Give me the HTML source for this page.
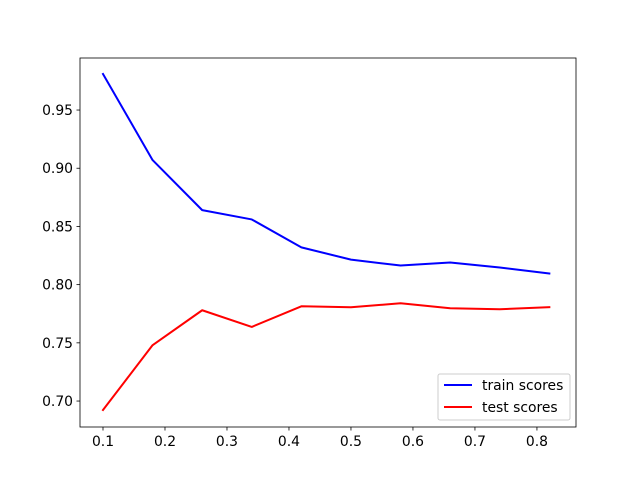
<!DOCTYPE html>
<html><head><meta charset="utf-8"><style>
body{margin:0;background:#fff}
svg{display:block;font-family:"DejaVu Sans","Liberation Sans",sans-serif}
</style></head><body>
<svg width="640" height="480" xmlns="http://www.w3.org/2000/svg">
<rect x="0" y="0" width="640" height="480" fill="#fff"/>
<g id="plot"></g>
</svg>
<script>
const xs=[0.1,0.18,0.26,0.34,0.42,0.5,0.58,0.66,0.74,0.82];
const trainScores=[0.981,0.907,0.864,0.856,0.832,0.8215,0.8164,0.819,0.8147,0.8096];
const testScores=[0.6923,0.748,0.778,0.7637,0.7814,0.7806,0.784,0.7797,0.7789,0.7806];
const xTicks=[0.1,0.2,0.3,0.4,0.5,0.6,0.7,0.8];
const yTicks=[0.70,0.75,0.80,0.85,0.90,0.95];
const L=80,R=576,T=58,B=427;
const xmin=0.0629,xmax=0.863,ymin=0.6777,ymax=0.9947;
const X=v=>L+(v-xmin)/(xmax-xmin)*(R-L);
const Y=v=>B-(v-ymin)/(ymax-ymin)*(B-T);
const NS="http://www.w3.org/2000/svg";
const g=document.getElementById('plot');
function mk(t,a,p){const e=document.createElementNS(NS,t);for(const k in a)e.setAttribute(k,a[k]);(p||g).appendChild(e);return e;}
xTicks.forEach(v=>{
 const t=mk('line',{x1:X(v),x2:X(v),y1:B,y2:B+3.5,stroke:'#000','stroke-width':0.8});
 
 
 const l=mk('text',{x:X(v),y:B+19,'font-size':13.9,'text-anchor':'middle'});l.textContent=String(v);
 
 
});
yTicks.forEach(v=>{
 const t=mk('line',{x1:L-3.5,x2:L,y1:Y(v),y2:Y(v),stroke:'#000','stroke-width':0.8});
 
 
 const l=mk('text',{x:L-7,y:Y(v)+5,'font-size':13.9,'text-anchor':'end'});l.textContent=v.toFixed(2);
 
 
});
function line(ys,c,name){
 const p=mk('polyline',{points:xs.map((x,i)=>X(x)+','+Y(ys[i])).join(' '),fill:'none',stroke:c,'stroke-width':2,'stroke-linejoin':'round','stroke-linecap':'square'});
 
 
}
line(trainScores,'#0000ff','train-scores-line');
line(testScores,'#ff0000','test-scores-line');
const fr=mk('rect',{x:L,y:T,width:R-L,height:B-T,fill:'none',stroke:'#000','stroke-width':0.8});


const lg=mk('g',{});


mk('rect',{x:438,y:374,width:132,height:46,rx:2,fill:'#fff','fill-opacity':0.8,stroke:'#ccc','stroke-width':1},lg);
[['train scores','#0000ff',385],['test scores','#ff0000',407]].forEach(([n,c,y])=>{
 const e=mk('g',{},lg);
 
 
 mk('line',{x1:444,x2:472,y1:y,y2:y,stroke:c,'stroke-width':2},e);
 const t=mk('text',{x:482,y:y+5,'font-size':13.9},e);t.textContent=n;
});
</script>
</body></html>
